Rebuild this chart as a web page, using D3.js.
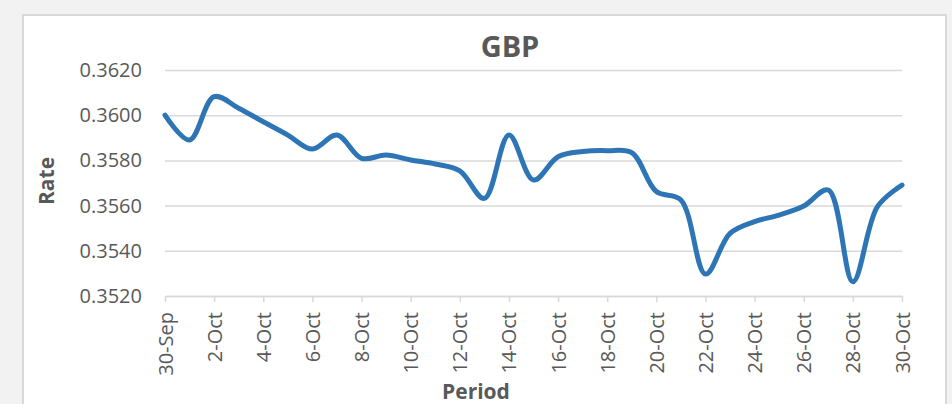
<!DOCTYPE html>
<html>
<head>
<meta charset="utf-8">
<script src="https://cdn.jsdelivr.net/npm/d3@7"></script>
<style>
  body { margin: 0; background: #f2f2f2; }
  svg { display: block; }
  text { font-family: "Open Sans", sans-serif; fill: #595959; }
</style>
</head>
<body>
<div id="chart"></div>
<script>
// daily GBP rate, 30-Sep to 30-Oct
var days = ['30-Sep','1-Oct','2-Oct','3-Oct','4-Oct','5-Oct','6-Oct','7-Oct','8-Oct','9-Oct',
            '10-Oct','11-Oct','12-Oct','13-Oct','14-Oct','15-Oct','16-Oct','17-Oct','18-Oct','19-Oct',
            '20-Oct','21-Oct','22-Oct','23-Oct','24-Oct','25-Oct','26-Oct','27-Oct','28-Oct','29-Oct','30-Oct'];
var rates = [0.36000,0.35890,0.36082,0.36031,0.35971,0.35912,0.35850,0.35912,0.35809,0.35824,
             0.35802,0.35784,0.35754,0.35632,0.35912,0.35713,0.35816,0.35839,0.35843,0.35834,
             0.35662,0.35625,0.35297,0.35477,0.35529,0.35558,0.35598,0.35669,0.35263,0.35595,0.35691];
var yTicks = [0.3520,0.3540,0.3560,0.3580,0.3600,0.3620];

var width = 952, height = 404;
var plotL = 165, plotR = 902, plotT = 70, plotB = 296;

var svg = d3.select('#chart').append('svg')
            .attr('width', width).attr('height', height);

svg.append('rect')
   .attr('x', 23).attr('y', 15)
   .attr('width', 923).attr('height', 400)
   .attr('fill', '#fff')
   .attr('stroke', '#d9d9d9').attr('stroke-width', 2);

var x = d3.scaleLinear().domain([0, days.length - 1]).range([plotL, plotR]);
var y = d3.scaleLinear().domain([0.3520, 0.3620]).range([plotB, plotT]);

// gridlines + y labels
var yAxis = svg.append('g')
  .attr('transform', 'translate(' + plotL + ',0)')
  .call(d3.axisLeft(y).tickValues(yTicks).tickSize(-(plotR - plotL)).tickPadding(23)
          .tickFormat(d3.format('.4f')));
yAxis.select('.domain').remove();
yAxis.selectAll('line').attr('stroke', '#d9d9d9').attr('stroke-width', 1.5);
yAxis.selectAll('text').style('font-size', '20px').attr('fill', '#595959');

// x axis
var xAxis = svg.append('g')
  .attr('transform', 'translate(0,' + plotB + ')')
  .call(d3.axisBottom(x).tickValues(d3.range(0, days.length, 2)).tickSize(6).tickSizeOuter(0)
          .tickFormat(function(i) { return days[i]; }));
xAxis.select('.domain').attr('stroke', '#d9d9d9').attr('stroke-width', 1.5);
xAxis.selectAll('line').attr('stroke', '#d9d9d9').attr('stroke-width', 1.5);
xAxis.selectAll('text')
  .style('font-size', '20px').attr('fill', '#595959')
  .attr('text-anchor', 'end')
  .attr('transform', 'rotate(-90)')
  .attr('x', -16).attr('y', 0).attr('dy', '0.35em');

// line
var line = d3.line()
  .x(function(d, i) { return x(i); })
  .y(function(d) { return y(d); })
  .curve(d3.curveCatmullRom.alpha(0.5));

svg.append('path')
  .datum(rates)
  .attr('d', line)
  .attr('fill', 'none')
  .attr('stroke', '#2e75b6')
  .attr('stroke-width', 5)
  .attr('stroke-linecap', 'round')
  .attr('stroke-linejoin', 'round');

// titles
svg.append('text')
  .attr('x', 510).attr('y', 57)
  .attr('text-anchor', 'middle')
  .style('font-size', '29px').style('font-weight', 'bold')
  .text('GBP');

svg.append('text')
  .attr('x', 476).attr('y', 399)
  .attr('text-anchor', 'middle')
  .style('font-size', '21px').style('font-weight', 'bold')
  .text('Period');

svg.append('text')
  .attr('transform', 'translate(54,181) rotate(-90)')
  .attr('text-anchor', 'middle')
  .style('font-size', '21px').style('font-weight', 'bold')
  .text('Rate');
</script>
</body>
</html>
